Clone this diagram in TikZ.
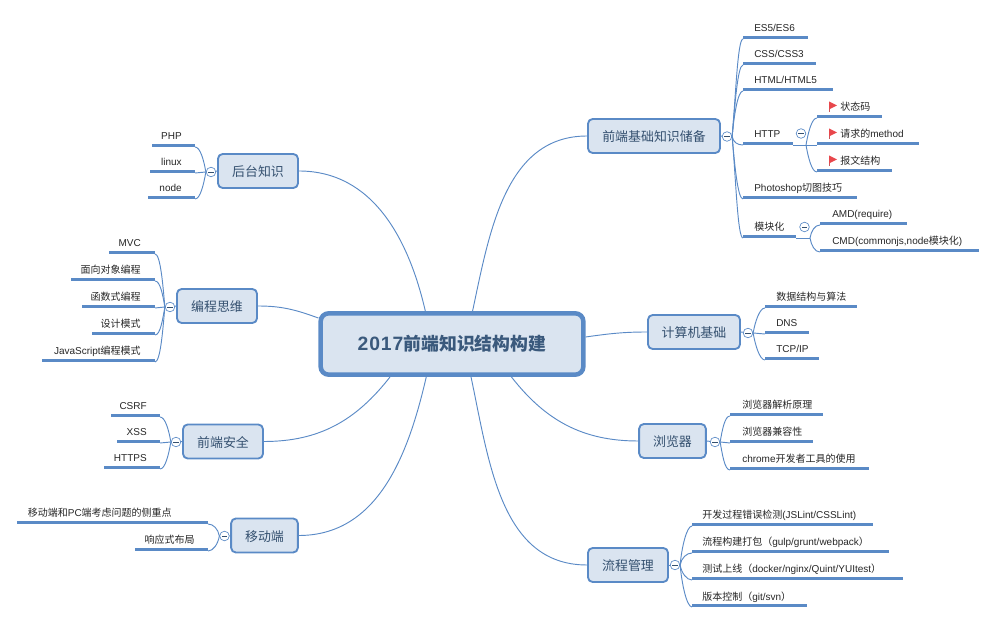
\documentclass[tikz,border=0pt]{standalone}
\usepackage{fontspec}
\setmainfont{Liberation Sans}
\newfontfamily\zh{Noto Sans CJK SC}
\usetikzlibrary{
  positioning,
  calc,
}
\definecolor{lineblue}{HTML}{5A8AC6}
\definecolor{boxfill}{HTML}{DAE4F0}
\definecolor{boxtext}{HTML}{34506F}
\definecolor{flagred}{HTML}{E8474C}
\newcommand{\z}[1]{{\zh #1}}
\newcommand{\foldbar}{\textcolor{boxtext}{\rule{3.8pt}{.35pt}}}
% name, bar from, bar to, bar y, text x, text
\newcommand{\leafR}[6]{
  \coordinate (#1a) at (#2,#4+1);
  \coordinate (#1b) at (#3,#4+1);
  \path[leafbar] (#1a) rectangle ([yshift=2pt]#1b);
  \node[leaf,anchor=base west] (#1) at (#5,#4-6) {#6};
}
\newcommand{\leafL}[6]{
  \coordinate (#1a) at (#3,#4+1);
  \coordinate (#1b) at (#2,#4+1);
  \path[leafbar] (#1a) rectangle ([yshift=2pt]#1b);
  \node[leaf,anchor=base east] (#1) at (#5,#4-6) {#6};
}
\newcommand{\redflag}[2]{
  \draw[flagred!70!gray,line width=.7pt] (#1,#2) -- (#1,#2+10);
  \fill[flagred] (#1,#2-.5) -- (#1+8,#2+3.5) -- (#1,#2+7.5) -- cycle;
}
\tikzset{
  thinline/.style={
    draw=lineblue,
    line width=.7pt
  },
  leafbar/.style={
    fill=lineblue
  },
  leaf/.style={
    font=\fontsize{7.5}{9}\selectfont,
    text=black!85,
    inner sep=0pt
  },
  branch/.style={
    draw=lineblue,
    fill=boxfill,
    line width=1.4pt,
    rounded corners=3.5pt,
    minimum height=25.5pt,
    inner sep=0pt,
    text=boxtext,
    text height=10.5pt,
    text depth=1.5pt,
    font=\fontsize{9.7}{12}\zh
  },
  mainbox/.style={
    draw=lineblue,
    fill=boxfill,
    line width=3.4pt,
    rounded corners=6pt,
    minimum width=197pt,
    minimum height=46pt,
    text=boxtext!85!lineblue,
    font=\fontsize{13.4}{16}\selectfont\bfseries
  },
  fold/.style={
    circle,
    draw=lineblue,
    fill=white,
    line width=.5pt,
    inner sep=0pt,
    minimum size=7.2pt
  },
  linkR/.style={
    thinline,
    out=#1,
    in=180,
    in distance=4pt,
    looseness=1.1
  },
  linkL/.style={
    thinline,
    out=#1,
    in=0,
    in distance=4pt,
    looseness=1.1
  }
}
\begin{document}
\begin{tikzpicture}[x=.75pt,y=-.75pt]
\useasboundingbox (0,0) rectangle (997,623);
\node[mainbox] (main) at (452,344) {{\fontsize{14.5}{16}\selectfont\addfontfeature{LetterSpace=5}2017}{\zh 前端知识结构构建}};

% right side
\node[branch,minimum width=99pt] (base) at (654,136) {前端基础知识储备};
\node[branch,minimum width=69pt] (comp) at (694,332) {计算机基础};
\node[branch,minimum width=50pt] (brow) at (672.5,441) {浏览器};
\node[branch,minimum width=60pt] (flow) at (628,565) {流程管理};
% left side
\node[branch,minimum width=60pt] (back) at (258,171) {后台知识};
\node[branch,minimum width=60pt] (idea) at (217,306) {编程思维};
\node[branch,minimum width=60pt] (safe) at (223,441.5) {前端安全};
\node[branch,minimum width=50pt] (mobi) at (264.5,535.5) {移动端};

\path[thinline]
  (main.58.8) edge[out=78,in=180] (base.west)
  (main.3.4) edge[out=8,in=180] (comp.west)
  (main.331.2) edge[out=-52,in=180] (brow.west)
  (main.300) edge[out=-78,in=180] (flow.west)
  (main.129.3) edge[out=103,in=0] (back.east)
  (main.169) edge[out=160,in=0] (idea.east)
  (main.208.8) edge[out=-128,in=0] (safe.east)
  (main.232.9) edge[out=-103,in=0] (mobi.east);

\leafR{es}{743}{808}{38}{754}{ES5/ES6}
\leafR{css}{743}{816}{64}{754}{CSS/CSS3}
\leafR{html}{743}{833}{90}{754}{HTML/HTML5}
\leafR{http}{743}{793}{144}{754}{HTTP}
\leafR{psd}{743}{857}{198}{754}{Photoshop\z{切图技巧}}
\leafR{mod}{743}{796}{237}{754}{\z{模块化}}
\leafR{code}{817}{882}{117}{840}{\z{状态码}}
\leafR{meth}{817}{919}{144}{840}{\z{请求的}method}
\leafR{body}{817}{892}{171}{840}{\z{报文结构}}
\leafR{amd}{820}{907}{224}{832}{AMD(require)}
\leafR{cmd}{820}{979}{251}{832}{CMD(commonjs,node\z{模块化})}
\redflag{829}{102}
\redflag{829}{129}
\redflag{829}{156}

\leafR{algo}{765}{857}{307}{776}{\z{数据结构与算法}}
\leafR{dns}{765}{809}{333}{776}{DNS}
\leafR{tcp}{765}{819}{359}{776}{TCP/IP}

\leafR{parse}{730}{823}{415}{742}{\z{浏览器解析原理}}
\leafR{compat}{730}{813}{442}{742}{\z{浏览器兼容性}}
\leafR{tool}{730}{869}{469}{742}{chrome\z{开发者工具的使用}}

\leafR{lint}{692}{873}{525}{702}{\z{开发过程错误检测}(JSLint/CSSLint)}
\leafR{pack}{692}{889}{552}{702}{\z{流程构建打包（}gulp/grunt/webpack\z{）}}
\leafR{test}{692}{903}{579}{702}{\z{测试上线（}docker/nginx/Quint/YUItest\z{）}}
\leafR{vers}{692}{807}{606}{702}{\z{版本控制（}git/svn\z{）}}

\leafL{php}{152}{195}{146}{182}{PHP}
\leafL{linux}{150}{195}{172}{182}{linux}
\leafL{node}{148}{195}{198}{182}{node}

\leafL{mvc}{109}{155}{253}{141}{MVC}
\leafL{oop}{71}{155}{280}{141}{\z{面向对象编程}}
\leafL{func}{82}{155}{307}{141}{\z{函数式编程}}
\leafL{patt}{92}{155}{334}{141}{\z{设计模式}}
\leafL{jsp}{42}{155}{361}{141}{JavaScript\z{编程模式}}

\leafL{csrf}{111}{160}{416}{147}{CSRF}
\leafL{xss}{117}{160}{442}{147}{XSS}
\leafL{https}{104}{160}{468}{147}{HTTPS}

\leafL{diff}{17}{208}{523}{172}{\z{移动端和}PC\z{端考虑问题的侧重点}}
\leafL{resp}{135}{208}{550}{195}{\z{响应式布局}}

\coordinate (httpFork) at (806,145);
\coordinate (modFork) at (810,238);

\path[thinline]
  (httpb) edge (metha)
  (httpFork) edge[linkR=80] (codea)
  (httpFork) edge[linkR=-80] (bodya)
  (modb) edge (modFork)
  (modFork) edge[linkR=80] (amda)
  (modFork) edge[linkR=-80] (cmda);

\node[fold] (baseFold) at (727,136.5) {\foldbar};
\node[fold] (compFold) at (748,333) {\foldbar};
\node[fold] (browFold) at (715,442) {\foldbar};
\node[fold] (flowFold) at (675,565) {\foldbar};
\node[fold] (backFold) at (211,172) {\foldbar};
\node[fold] (ideaFold) at (170,307) {\foldbar};
\node[fold] (safeFold) at (176,442) {\foldbar};
\node[fold] (mobiFold) at (224.5,536) {\foldbar};
\node[fold] (httpFold) at (801,133.5) {\foldbar};
\node[fold] (modFold) at (804.5,227) {\foldbar};

\path[thinline]
  (base.east) edge (baseFold)
  (comp.east) edge (compFold)
  (brow.east) edge (browFold)
  (flow.east) edge (flowFold)
  (back.west) edge (backFold)
  (idea.west) edge (ideaFold)
  (safe.west) edge (safeFold)
  (mobi.west) edge (mobiFold)
  (baseFold.east) edge[linkR=85] (esa)
  (baseFold.east) edge[linkR=85] (cssa)
  (baseFold.east) edge[linkR=85] (htmla)
  (baseFold.east) edge[linkR=-80] (httpa)
  (baseFold.east) edge[linkR=-85] (psda)
  (baseFold.east) edge[linkR=-85] (moda)
  (compFold.east) edge[linkR=80] (algoa)
  (compFold.east) edge (dnsa)
  (compFold.east) edge[linkR=-80] (tcpa)
  (browFold.east) edge[linkR=80] (parsea)
  (browFold.east) edge (compata)
  (browFold.east) edge[linkR=-80] (toola)
  (flowFold.east) edge[linkR=85] (linta)
  (flowFold.east) edge[linkR=80] (packa)
  (flowFold.east) edge[linkR=-80] (testa)
  (flowFold.east) edge[linkR=-85] (versa)
  (backFold.west) edge[linkL=100] (phpa)
  (backFold.west) edge (linuxa)
  (backFold.west) edge[linkL=-100] (nodea)
  (ideaFold.west) edge[linkL=95] (mvca)
  (ideaFold.west) edge[linkL=100] (oopa)
  (ideaFold.west) edge (funca)
  (ideaFold.west) edge[linkL=-100] (patta)
  (ideaFold.west) edge[linkL=-95] (jspa)
  (safeFold.west) edge[linkL=100] (csrfa)
  (safeFold.west) edge (xssa)
  (safeFold.west) edge[linkL=-100] (httpsa)
  (mobiFold.west) edge[linkL=100] (diffa)
  (mobiFold.west) edge[linkL=-100] (respa);
\end{tikzpicture}
\end{document}
